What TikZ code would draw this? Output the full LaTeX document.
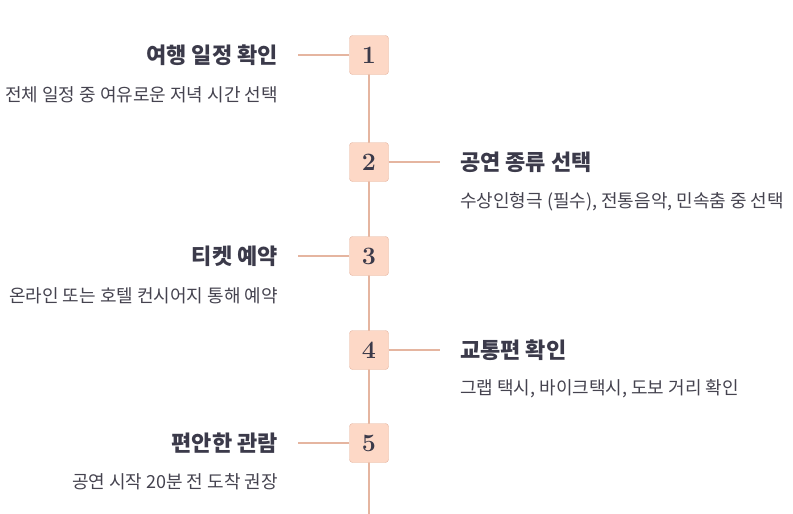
\documentclass[tikz,border=0pt]{standalone}
\usepackage{fontspec}
\newfontfamily\kr{Noto Sans CJK KR}
\usetikzlibrary{positioning}
\definecolor{stepfill}{HTML}{FDD8C6}
\definecolor{stepline}{HTML}{E5B5A0}
\definecolor{ink}{HTML}{3B3A4A}
\definecolor{subink}{HTML}{45434F}

\begin{document}
\begin{tikzpicture}[x=1pt,y=-1pt,
	numbox/.style={draw=stepline,fill=stepfill,rounded corners=3pt,minimum size=39pt,inner sep=0pt,font=\bfseries\fontsize{25}{25}\selectfont,text=ink},
	titletext/.style={font=\kr\bfseries\fontsize{22}{22}\selectfont,text=ink,inner sep=0pt},
	subtext/.style={font=\kr\fontsize{18}{18}\selectfont,text=subink,inner sep=0pt},
	link/.style={draw=stepline,line width=1.2pt}]
	\useasboundingbox (0,0) rectangle (793,514);
	\coordinate (top) at (369,55);
	\coordinate (bottom) at (369,514);
	\draw[link] (top) -- (bottom);

	\node[numbox] (n1) at (369,55)	{1};
	\node[numbox] (n2) at (369,162)	{2};
	\node[numbox] (n3) at (369,256)	{3};
	\node[numbox] (n4) at (369,350)	{4};
	\node[numbox] (n5) at (369,443)	{5};

	\coordinate (l1) at (298,55);
	\coordinate (r2) at (440,162);
	\coordinate (l3) at (298,256);
	\coordinate (r4) at (440,350);
	\coordinate (l5) at (298,443);
	\draw[link] (n1) -- (l1);
	\draw[link] (n2) -- (r2);
	\draw[link] (n3) -- (l3);
	\draw[link] (n4) -- (r4);
	\draw[link] (n5) -- (l5);

	\node[titletext,anchor=east] (t1) at (278,55)	{여행 일정 확인};
	\node[subtext,anchor=east] (s1) at (278,95)	{전체 일정 중 여유로운 저녁 시간 선택};
	\node[titletext,anchor=west] (t2) at (460,162)	{공연 종류 선택};
	\node[subtext,anchor=west] (s2) at (460,202)	{수상인형극 (필수), 전통음악, 민속춤 중 선택};
	\node[titletext,anchor=east] (t3) at (278,256)	{티켓 예약};
	\node[subtext,anchor=east] (s3) at (278,296)	{온라인 또는 호텔 컨시어지 통해 예약};
	\node[titletext,anchor=west] (t4) at (460,350)	{교통편 확인};
	\node[subtext,anchor=west] (s4) at (460,389)	{그랩 택시, 바이크택시, 도보 거리 확인};
	\node[titletext,anchor=east] (t5) at (278,443)	{편안한 관람};
	\node[subtext,anchor=east] (s5) at (278,482)	{공연 시작 20분 전 도착 권장};
\end{tikzpicture}
\end{document}
